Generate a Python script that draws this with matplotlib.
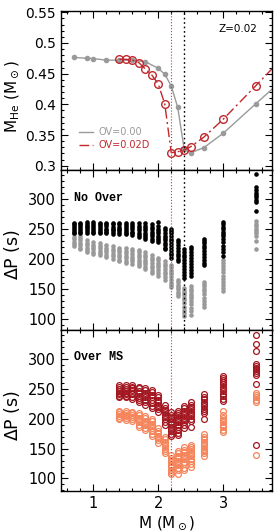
import matplotlib
matplotlib.use("Agg")
import matplotlib.pyplot as plt
from matplotlib.lines import Line2D
from matplotlib.ticker import MultipleLocator, FuncFormatter

# top panel: helium core mass vs stellar mass (last point sits off the right edge)
m_ov0 = [0.7, 0.9, 1.0, 1.2, 1.4, 1.6, 1.8, 2.0, 2.1, 2.2, 2.3, 2.4, 2.5, 2.7, 3.0, 3.5, 4.0]
mhe_ov0 = [0.4765, 0.475, 0.4745, 0.472, 0.472, 0.4715, 0.4695, 0.4587, 0.449, 0.430,
           0.395, 0.3267, 0.3212, 0.3293, 0.3528, 0.4006, 0.448]
m_ov2 = [1.4, 1.5, 1.6, 1.7, 1.8, 1.9, 2.0, 2.1, 2.2, 2.3, 2.4, 2.5, 2.7, 3.0, 3.5, 4.0]
mhe_ov2 = [0.4734, 0.4734, 0.4722, 0.4679, 0.4576, 0.4478, 0.4332, 0.4006, 0.3212, 0.3228,
           0.3256, 0.331, 0.3463, 0.3756, 0.4299, 0.485]
legend_labels = ["OV=0.00", "OV=0.02D"]

# transition masses (dotted lines)
m_flash_ov2 = 2.2
m_flash_ov0 = 2.4

# middle panel: period spacings, no overshooting
m_nover = [0.7, 0.8, 0.9, 1.0, 1.1, 1.2, 1.3, 1.4, 1.5, 1.6, 1.7, 1.8, 1.9, 2.0,
           2.1, 2.2, 2.3, 2.4, 2.5, 2.7, 3.0, 3.5]
dp_nover_blk = [
    [261, 258, 255, 252, 249, 246, 243],
    [261, 258, 255, 252, 249, 246, 243],
    [262, 259, 256, 253, 250, 247, 244],
    [262, 258, 255, 252, 249, 246, 243],
    [261, 258, 255, 252, 249, 246, 243],
    [261, 258, 255, 251, 248, 245, 243],
    [261, 258, 254, 251, 248, 245, 242],
    [261, 258, 254, 251, 248, 245, 242],
    [261, 257, 254, 250, 247, 244, 241],
    [261, 257, 253, 250, 246, 243, 240],
    [260, 256, 252, 248, 244, 240, 236],
    [260, 256, 252, 248, 244, 240, 236, 233],
    [258, 254, 250, 246, 242, 238, 234, 230],
    [262, 255, 251, 247, 243, 239, 235, 231, 228],
    [252, 248, 244, 239, 235, 231, 227, 223, 219, 216],
    [251, 247, 243, 238, 234, 230, 225, 220, 215, 210, 206, 202],
    [232, 228, 224, 219, 214, 209, 205, 200, 196],
    [217, 212, 207, 203, 198, 193, 188, 183, 178, 173, 168],
    [220, 216, 211, 207, 202, 197, 192, 187, 182, 177, 172],
    [234, 230, 226, 222, 218, 213, 209, 204, 199, 194, 190],
    [262, 258, 254, 250, 246, 242, 238, 233, 228, 222, 216, 211, 205],
    [342, 321, 316, 311, 307, 303, 299, 295, 280],
]
dp_nover_gry = [
    [241, 237, 233, 229, 225, 222],
    [239, 235, 231, 227, 223, 219, 216],
    [231, 227, 223, 219, 215, 211],
    [228, 224, 220, 216, 212, 208],
    [226, 222, 218, 214, 210, 206],
    [223, 219, 215, 211, 207, 203],
    [221, 217, 213, 209, 205, 200],
    [219, 215, 211, 207, 203, 199, 196],
    [218, 214, 210, 205, 201, 197, 193],
    [217, 213, 209, 204, 200, 196, 192],
    [215, 211, 207, 203, 199, 195, 191, 188],
    [211, 207, 203, 199, 195, 191, 187, 184],
    [206, 202, 198, 194, 189, 185, 180, 176],
    [202, 198, 194, 190, 186, 181, 176, 172],
    [196, 192, 188, 184, 179, 174, 169, 164],
    [190, 186, 182, 178, 174, 169, 165, 160, 156, 153],
    [165, 161, 157, 153, 149, 145, 141, 138],
    [151, 147, 143, 139, 135, 131, 126, 120, 115, 110, 104],
    [154, 150, 146, 142, 138, 134, 130, 124, 118, 113, 106],
    [162, 158, 154, 150, 146, 142, 135, 130, 125, 120],
    [198, 193, 188, 184, 178, 172, 167, 162, 157, 151, 146],
    [263, 259, 255, 251, 247, 243, 239, 230, 217],
]

# bottom panel: period spacings, overshooting on the main sequence
m_overms = [1.4, 1.5, 1.6, 1.7, 1.8, 1.9, 2.0, 2.1, 2.2, 2.3, 2.4, 2.5, 2.7, 3.0, 3.5]
dp_overms_red = [
    [256, 253, 250, 247, 244, 241, 238, 236],
    [256, 253, 250, 247, 244, 241, 238, 236],
    [257, 254, 251, 248, 244, 241, 237, 234],
    [254, 251, 247, 243, 239, 235, 231, 228],
    [252, 248, 244, 240, 236, 232, 228, 224],
    [249, 245, 240, 236, 231, 226, 222, 218],
    [240, 236, 232, 228, 224, 220, 216, 212],
    [223, 219, 215, 211, 207, 203, 199, 195, 190],
    [211, 207, 203, 199, 195, 191, 187, 183, 179, 175, 171],
    [214, 210, 206, 202, 198, 194, 190, 186, 182, 177, 173],
    [222, 218, 214, 210, 206, 202, 198, 194, 189, 184],
    [228, 224, 220, 216, 212, 208, 204, 200, 196, 186],
    [241, 237, 233, 229, 225, 221, 217, 213, 209, 200],
    [272, 269, 266, 262, 258, 254, 250, 246, 242, 238, 234, 230],
    [340, 325, 314, 292, 289, 286, 283, 280, 277, 274, 259, 156],
]
dp_overms_org = [
    [214, 211, 208, 205, 202, 199],
    [213, 210, 207, 204, 201, 198],
    [212, 209, 206, 203, 200, 197],
    [209, 206, 202, 198, 194, 190, 187],
    [205, 201, 197, 193, 189, 185, 182],
    [200, 196, 192, 188, 184, 180, 175, 172],
    [184, 180, 176, 172, 168, 164, 160],
    [170, 166, 162, 158, 154, 150, 146, 142],
    [139, 135, 131, 127, 123, 119, 115, 111, 107],
    [146, 142, 138, 134, 130, 126, 122, 118, 114, 108],
    [152, 148, 144, 140, 136, 132, 128, 124, 118, 114],
    [157, 153, 149, 145, 141, 137, 133, 129, 125, 120],
    [174, 170, 166, 162, 158, 154, 150, 146, 142, 138],
    [214, 206, 202, 198, 194, 190, 186, 182, 178],
    [244, 240, 236, 232, 229, 139],
]

GREY = "#9a9a9a"
RED = "#c0282d"
DOTRED = "#d0383c"
DARKRED = "#a3161f"
ORANGE = "#f5845a"
dashdot = (0, (7, 2.5, 1.5, 2.5))

fig = plt.figure(figsize=(2.76, 5.31), dpi=100)
left, width = 0.221, 0.766
ax1 = fig.add_axes([left, 0.6798, width, 0.2994])
ax2 = fig.add_axes([left, 0.3785, width, 0.3013])
ax3 = fig.add_axes([left, 0.0753, width, 0.3032])

# --- top panel
ax1.plot(m_ov0, mhe_ov0, "-o", color=GREY, lw=1.0, ms=3, mfc=GREY, mec=GREY)
ax1.plot(m_ov2, mhe_ov2, ls=dashdot, color=RED, lw=1.0, marker="o", ms=5.5,
         mfc="none", mec=RED, mew=1.0)
ax1.axvline(m_flash_ov2, color=DOTRED, ls=":", lw=0.8)
ax1.axvline(m_flash_ov0, color="k", ls=(0, (1.2, 2)), lw=1.0)
ax1.set_ylim(0.293, 0.552)
ax1.yaxis.set_major_locator(MultipleLocator(0.05))
ax1.yaxis.set_minor_locator(MultipleLocator(0.01))
ax1.yaxis.set_major_formatter(FuncFormatter(lambda v, p: f"{v:g}"))
ax1.set_ylabel(r"M$_{\rm He}$ (M$_\odot$)", fontsize=11)
ax1.yaxis.set_label_coords(-0.19, 0.46)
ax1.text(0.93, 0.887, "Z=0.02", transform=ax1.transAxes, ha="right", va="center",
         fontsize=7.5)
handles = [Line2D([], [], color=GREY, lw=1.0),
           Line2D([], [], color=RED, lw=1.0, ls=dashdot)]
leg = ax1.legend(handles, legend_labels, loc="upper left", bbox_to_anchor=(0.085, 0.268),
                 frameon=False, fontsize=7, handlelength=1.4, handletextpad=0.6,
                 labelspacing=0.3, borderpad=0, borderaxespad=0)
for txt, c in zip(leg.get_texts(), [GREY, RED]):
    txt.set_color(c)

# --- middle panel
for m, vals in zip(m_nover, dp_nover_gry):
    ax2.plot([m] * len(vals), vals, "o", color=GREY, ms=3.3, mew=0)
for m, vals in zip(m_nover, dp_nover_blk):
    ax2.plot([m] * len(vals), vals, "o", color="k", ms=3.3, mew=0)
ax2.axvline(m_flash_ov2, color=DOTRED, ls=":", lw=0.8)
ax2.axvline(m_flash_ov0, color="k", ls=(0, (1.2, 2)), lw=1.0)
ax2.set_ylim(81, 349)
ax2.text(0.061, 0.825, "No Over", transform=ax2.transAxes, ha="left", va="center",
         fontsize=8.5, family="Liberation Mono", weight="bold")

# --- bottom panel
for m, vals in zip(m_overms, dp_overms_org):
    ax3.plot([m] * len(vals), vals, "o", ms=4.2, mfc="none", mec=ORANGE, mew=0.9)
for m, vals in zip(m_overms, dp_overms_red):
    ax3.plot([m] * len(vals), vals, "o", ms=4.2, mfc="none", mec=DARKRED, mew=0.9)
ax3.axvline(m_flash_ov2, color=DOTRED, ls=":", lw=0.8)
ax3.set_ylim(79, 349)
ax3.text(0.061, 0.832, "Over MS", transform=ax3.transAxes, ha="left", va="center",
         fontsize=8.5, family="Liberation Mono", weight="bold")
ax3.set_xlabel(r"M (M$_\odot$)", fontsize=11, labelpad=2)

for ax in (ax2, ax3):
    ax.yaxis.set_major_locator(MultipleLocator(50))
    ax.yaxis.set_minor_locator(MultipleLocator(10))
    ax.set_ylabel(r"$\Delta$P (s)", fontsize=12.5)
    ax.yaxis.set_label_coords(-0.184, 0.47)

for ax in (ax1, ax2, ax3):
    ax.set_xlim(0.5, 3.76)
    ax.xaxis.set_major_locator(MultipleLocator(1))
    ax.xaxis.set_minor_locator(MultipleLocator(0.2))
    ax.tick_params(which="both", direction="in", top=True, right=True, labelsize=10.5,
                   width=0.8)
    ax.tick_params(which="major", length=5)
    ax.tick_params(which="minor", length=2.5)
    for s in ax.spines.values():
        s.set_linewidth(1.0)
ax1.tick_params(labelbottom=False, labelsize=10)
ax2.tick_params(labelbottom=False)

fig.savefig("out.png", dpi=100)
